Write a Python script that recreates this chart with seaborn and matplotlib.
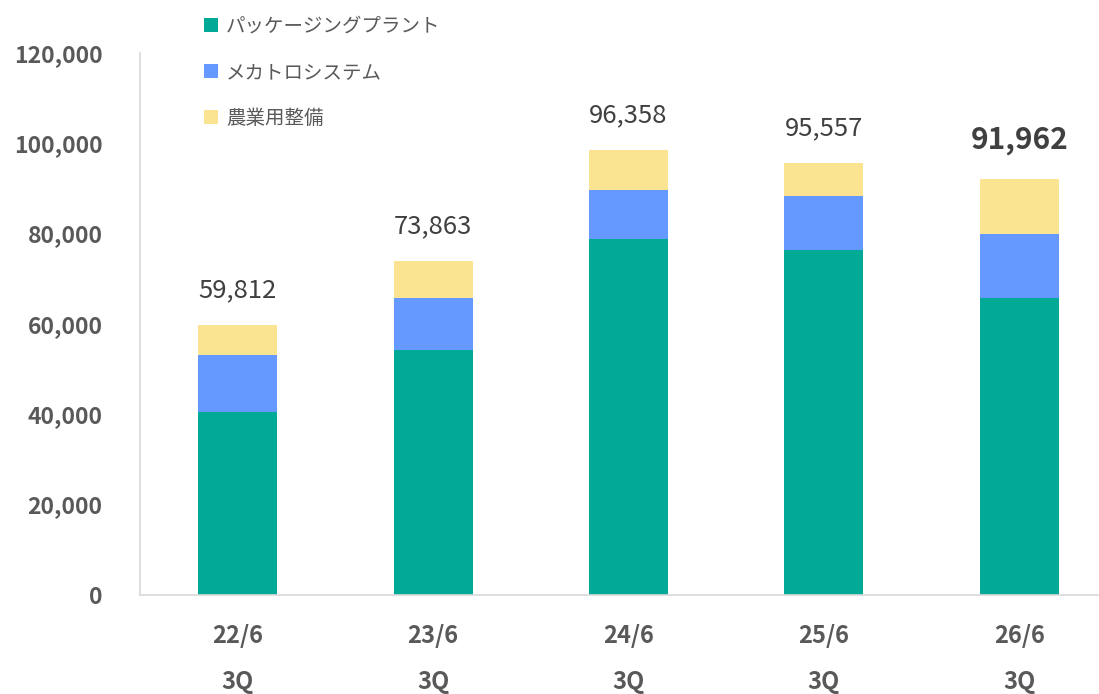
import matplotlib
matplotlib.use('Agg')
import matplotlib.pyplot as plt
import numpy as np
import pandas as pd
import seaborn as sns
from matplotlib.patches import Patch

# Chart values
periods = ['22/6\n3Q', '23/6\n3Q', '24/6\n3Q', '25/6\n3Q', '26/6\n3Q']
packaging = [40500, 54200, 78700, 76400, 65800]
mechatro = [12600, 11400, 11000, 11800, 14200]
agri = [6700, 8300, 8800, 7500, 12000]
total_labels = ['59,812', '73,863', '96,358', '95,557', '91,962']
series_names = ['パッケージングプラント', 'メカトロシステム', '農業用整備']

colors = ['#00AA96', '#6699FF', '#FAE391']
text_grey = '#595959'

sns.set_theme(style='white')
plt.rcParams['font.family'] = ['Noto Sans CJK JP', 'DejaVu Sans']

df = pd.DataFrame({'period': periods,
                   'packaging': packaging,
                   'mechatro': mechatro,
                   'agri': agri})
df['lvl1'] = df['packaging']
df['lvl2'] = df['lvl1'] + df['mechatro']
df['lvl3'] = df['lvl2'] + df['agri']

fig = plt.figure(figsize=(10.99, 6.94), dpi=100)
ax = fig.add_axes([140 / 1099, 99.5 / 694, 977 / 1099, 541.5 / 694])

# stacked bars: draw from the top layer down
for col, c in zip(['lvl3', 'lvl2', 'lvl1'], colors[::-1]):
    sns.barplot(data=df, x='period', y=col, color=c, width=0.404,
                saturation=1, ax=ax, linewidth=0)

ax.set_ylim(0, 120000)
ax.set_xlim(-0.5, 4.5)
ax.set_yticks(np.arange(0, 120001, 20000))
ax.set_yticklabels([f'{v:,}' for v in range(0, 120001, 20000)],
                   fontsize=16.5, fontweight='bold', color=text_grey)
ax.set_xticks(range(len(periods)))
ax.set_xticklabels(periods, fontsize=17, fontweight='bold', color=text_grey,
                   linespacing=2.2)
ax.tick_params(axis='y', length=0, pad=27)
ax.tick_params(axis='x', length=0, pad=21)
ax.set_xlabel('')
ax.set_ylabel('')

for s in ['top', 'right']:
    ax.spines[s].set_visible(False)
for s in ['left', 'bottom']:
    ax.spines[s].set_color('#D9D9D9')
    ax.spines[s].set_linewidth(1.2)

# total labels above bars
for i, lab in enumerate(total_labels):
    last = i == len(total_labels) - 1
    ax.annotate(lab, (i, df['lvl3'][i]), xytext=(0, 28 if last else 25),
                textcoords='offset points', ha='center', va='center',
                fontsize=21.5 if last else 18.5,
                fontweight='bold' if last else 'normal', color='#404040')

handles = [Patch(facecolor=c, edgecolor='none') for c in colors]
fig.legend(handles, series_names, loc='upper left',
           bbox_to_anchor=(186 / 1099, 1 + 2 / 694), frameon=False,
           fontsize=14, labelcolor=text_grey, handlelength=0.75,
           handleheight=0.75, handletextpad=0.4, labelspacing=1.3)

fig.savefig('out.png', dpi=100)
